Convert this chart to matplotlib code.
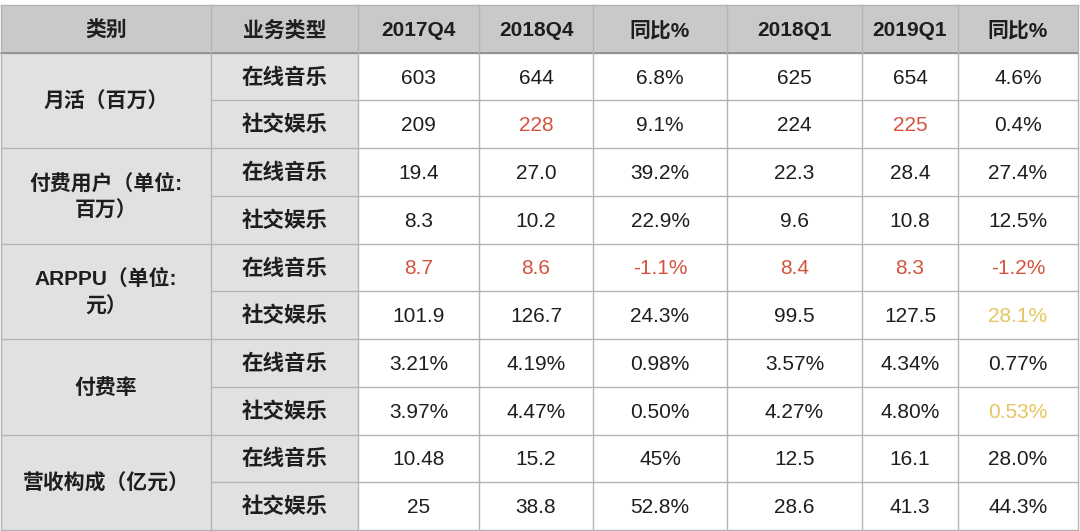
import matplotlib.pyplot as plt
from matplotlib.patches import Rectangle

plt.rcParams['font.family'] = ['Liberation Sans', 'Noto Sans CJK SC', 'DejaVu Sans']

# table content
headers = ['类别', '业务类型', '2017Q4', '2018Q4', '同比%', '2018Q1', '2019Q1', '同比%']
categories = ['月活（百万）', '付费用户（单位:\n百万）', 'ARPPU（单位:\n元）', '付费率', '营收构成（亿元）']
business = ['在线音乐', '社交娱乐']
q4_2017 = ['603', '209', '19.4', '8.3', '8.7', '101.9', '3.21%', '3.97%', '10.48', '25']
q4_2018 = ['644', '228', '27.0', '10.2', '8.6', '126.7', '4.19%', '4.47%', '15.2', '38.8']
yoy_q4 = ['6.8%', '9.1%', '39.2%', '22.9%', '-1.1%', '24.3%', '0.98%', '0.50%', '45%', '52.8%']
q1_2018 = ['625', '224', '22.3', '9.6', '8.4', '99.5', '3.57%', '4.27%', '12.5', '28.6']
q1_2019 = ['654', '225', '28.4', '10.8', '8.3', '127.5', '4.34%', '4.80%', '16.1', '41.3']
yoy_q1 = ['4.6%', '0.4%', '27.4%', '12.5%', '-1.2%', '28.1%', '0.77%', '0.53%', '28.0%', '44.3%']

# highlighted cells: (row, column index among value columns)
red_cells = [(1, 1), (1, 4), (4, 0), (4, 1), (4, 2), (4, 3), (4, 4), (4, 5)]
yellow_cells = [(5, 5), (7, 5)]

RED = '#d4533f'
YELLOW = '#e6c560'
TEXT = '#1e1e1e'

# layout in pixels
col_edges = [1, 211, 358, 479, 593, 727, 862, 958, 1078]
top, bottom = 5, 530
n_rows = 11
row_h = (bottom - top) / n_rows
dy = 1.5  # small nudge so text sits in the middle of the cell

fig = plt.figure(figsize=(10.8, 5.31), dpi=100)
ax = fig.add_axes([0, 0, 1, 1])
ax.set_xlim(0, 1080)
ax.set_ylim(531, 0)
ax.axis('off')

def row_y(i):
    return top + i * row_h

# backgrounds
ax.add_patch(Rectangle((col_edges[0], top), col_edges[-1] - col_edges[0], row_h,
                       facecolor='#c9c9c9', edgecolor='none'))
ax.add_patch(Rectangle((col_edges[0], row_y(1)), col_edges[2] - col_edges[0], bottom - row_y(1),
                       facecolor='#e1e1e1', edgecolor='none'))

# grid lines
line_c = '#b4b4b4'
for i in range(1, n_rows):
    x0 = col_edges[0] if i % 2 == 1 else col_edges[1]
    ax.plot([x0, col_edges[-1]], [row_y(i), row_y(i)], color=line_c, lw=1)
ax.plot([col_edges[0], col_edges[-1]], [row_y(1), row_y(1)], color='#8a8a8a', lw=1.2)
for x in col_edges:
    ax.plot([x, x], [top, bottom], color=line_c, lw=1)
ax.plot([col_edges[0], col_edges[-1]], [top, top], color=line_c, lw=1)
ax.plot([col_edges[0], col_edges[-1]], [bottom, bottom], color=line_c, lw=1)

def cx(j):
    return (col_edges[j] + col_edges[j + 1]) / 2

# header
for j, h in enumerate(headers):
    ax.text(cx(j), top + row_h / 2 + dy, h, ha='center', va='center',
            fontsize=15, fontweight='bold', color=TEXT)

# first two columns
for k, cat in enumerate(categories):
    ax.text(cx(0), row_y(1 + 2 * k) + row_h + dy, cat, ha='center', va='center',
            fontsize=15, fontweight='bold', color=TEXT, multialignment='center',
            linespacing=1.45)
    for b, name in enumerate(business):
        ax.text(cx(1), row_y(1 + 2 * k + b) + row_h / 2 + dy, name, ha='center', va='center',
                fontsize=15.5, fontweight='bold', color=TEXT)

# values
columns = [q4_2017, q4_2018, yoy_q4, q1_2018, q1_2019, yoy_q1]
for c, col in enumerate(columns):
    for r, val in enumerate(col):
        color = TEXT
        if (r, c) in red_cells:
            color = RED
        elif (r, c) in yellow_cells:
            color = YELLOW
        ax.text(cx(c + 2), row_y(r + 1) + row_h / 2 + dy, val, ha='center', va='center',
                fontsize=15, color=color)

fig.savefig('out.png', dpi=100)
